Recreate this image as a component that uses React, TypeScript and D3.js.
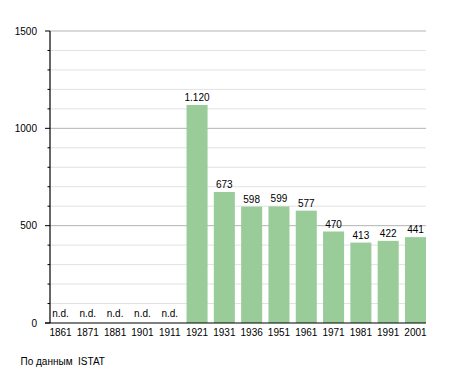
import React from "react";
import * as d3 from "d3";

const years = ["1861", "1871", "1881", "1901", "1911", "1921", "1931", "1936", "1951", "1961", "1971", "1981", "1991", "2001"];
// null = n.d. (no data)
const population: (number | null)[] = [null, null, null, null, null, 1120, 673, 598, 599, 577, 470, 413, 422, 441];
const majorTicks = [0, 500, 1000, 1500];
const minorTicks = d3.range(0, 1501, 100);

const width = 455;
const height = 373;
const left = 50;
const right = 426;
const top = 31;
const bottom = 323;
const font = "'Liberation Sans', Arial, sans-serif";

const fmt = (v: number) => (v >= 1000 ? d3.format(",")(v).replace(",", ".") : String(v));

export default function App() {
  const x = d3.scaleBand<string>().domain(years).range([left, right]).paddingInner(0.23).paddingOuter(0);
  const y = d3.scaleLinear().domain([0, 1500]).range([bottom, top]);

  return (
    <svg width={width} height={height} style={{ position: "absolute", left: 0, top: 0 }} fontFamily={font}>
      <rect width={width} height={height} fill="#fff" />
      {/* grid */}
      {minorTicks.filter((t) => t > 0).map((t) => (
        <line key={"g" + t} x1={left} x2={right} y1={y(t)} y2={y(t)}
          stroke={t % 500 === 0 ? "#b4b4b4" : "#e2e2e2"} strokeWidth={1} />
      ))}
      {/* bars */}
      {years.map((yr, i) => {
        const v = population[i];
        const bx = x(yr)!;
        const cx = bx + x.bandwidth() / 2;
        if (v == null) {
          return (
            <text key={yr} x={cx} y={317} fontSize={10} textAnchor="middle" fill="#000">n.d.</text>
          );
        }
        return (
          <g key={yr}>
            <rect x={bx} y={y(v)} width={x.bandwidth()} height={y(0) - y(v)} fill="#9c9" />
            <text x={cx} y={y(v) - 4} fontSize={10} textAnchor="middle" fill="#000">{fmt(v)}</text>
          </g>
        );
      })}
      {/* y axis */}
      <line x1={left} x2={left} y1={top} y2={bottom} stroke="#000" strokeWidth={1.2} />
      {minorTicks.map((t) => (
        <line key={"t" + t} x1={t % 500 === 0 ? left - 5 : left - 2.5} x2={left} y1={y(t)} y2={y(t)} stroke="#000" />
      ))}
      {majorTicks.map((t) => (
        <text key={"l" + t} x={37} y={y(t) + 3.5} fontSize={10} textAnchor="end" fill="#000">{t}</text>
      ))}
      {/* x axis */}
      <line x1={left - 5} x2={right} y1={bottom} y2={bottom} stroke="#000" strokeWidth={1.2} />
      {years.map((yr) => (
        <text key={"x" + yr} x={x(yr)! + x.bandwidth() / 2} y={336} fontSize={10} textAnchor="middle" fill="#000">{yr}</text>
      ))}
      <text x={20.5} y={365} fontSize={10} fill="#000" style={{ whiteSpace: "pre" }}>По данным  ISTAT</text>
    </svg>
  );
}
